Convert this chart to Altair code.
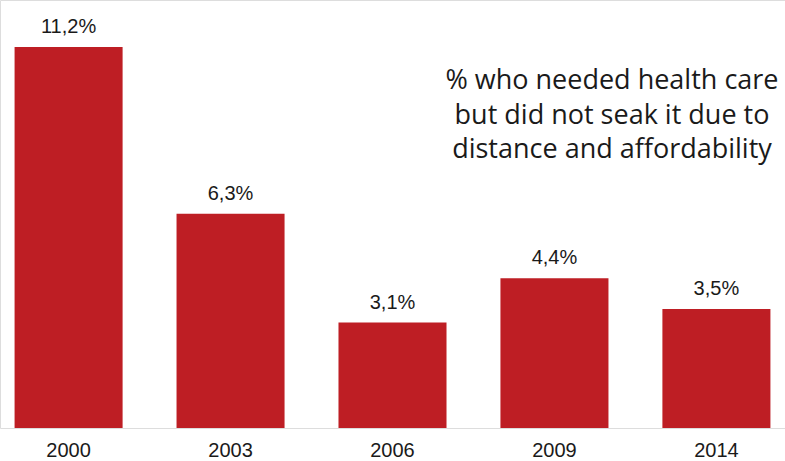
import altair as alt
import pandas as pd

years = ["2000", "2003", "2006", "2009", "2014"]
values = [11.2, 6.3, 3.1, 4.4, 3.5]
labels = ["11,2%", "6,3%", "3,1%", "4,4%", "3,5%"]
note_lines = ["% who needed health care", "but did not seak it due to", "distance and affordability"]

df = pd.DataFrame({"year": years, "value": values, "label": labels})

x = alt.X("year:N", sort=years, title=None,
          scale=alt.Scale(paddingInner=0.333, paddingOuter=0.09),
          axis=alt.Axis(labelAngle=0, domain=False, ticks=False, labelFontSize=20,
                        labelFont="Liberation Sans", labelColor="#1a1a1a",
                        labelPadding=28, labelBaseline="alphabetic"))
y = alt.Y("value:Q", title=None, scale=alt.Scale(domain=[0, 428 / 34.02], nice=False),
          axis=None)

bars = alt.Chart(df).mark_bar(color="#BE1E24").encode(x=x, y=y)
text = alt.Chart(df).mark_text(dy=-14, fontSize=20, font="Liberation Sans", color="#1a1a1a",
                               baseline="alphabetic").encode(
    x=alt.X("year:N", sort=years), y="value:Q", text="label:N")

note = alt.Chart(pd.DataFrame({"t": [note_lines]})).mark_text(
    fontSize=27, font="Open Sans", color="#1a1a1a", align="center", baseline="middle",
    lineHeight=34.5
).encode(x=alt.value(612), y=alt.value(81), text="t")

chart = (bars + text + note).properties(
    width=785, height=428,
    padding={"left": 0, "top": 0, "right": 0, "bottom": 33},
    autosize=alt.AutoSizeParams(type="none")
).configure_view(stroke=None).configure(background="white")

chart.save("out.html", embed_options={"renderer": "svg", "actions": False})
